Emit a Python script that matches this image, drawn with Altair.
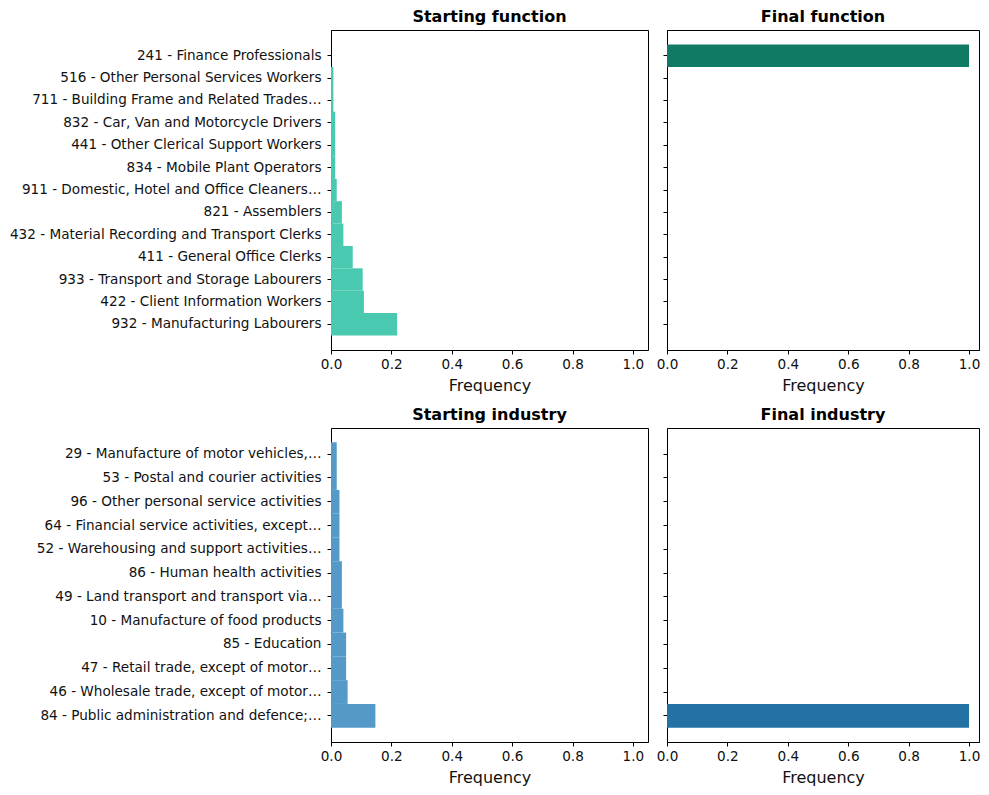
import altair as alt
import pandas as pd

func_cats = [
    "241 - Finance Professionals",
    "516 - Other Personal Services Workers",
    "711 - Building Frame and Related Trades…",
    "832 - Car, Van and Motorcycle Drivers",
    "441 - Other Clerical Support Workers",
    "834 - Mobile Plant Operators",
    "911 - Domestic, Hotel and Office Cleaners…",
    "821 - Assemblers",
    "432 - Material Recording and Transport Clerks",
    "411 - General Office Clerks",
    "933 - Transport and Storage Labourers",
    "422 - Client Information Workers",
    "932 - Manufacturing Labourers",
]
start_func = [0.0, 0.008, 0.008, 0.014, 0.014, 0.014, 0.019, 0.036, 0.041, 0.072, 0.105, 0.109, 0.219]
final_func = [1.0, 0.0, 0.0, 0.0, 0.0, 0.0, 0.0, 0.0, 0.0, 0.0, 0.0, 0.0, 0.0]

ind_cats = [
    "29 - Manufacture of motor vehicles,…",
    "53 - Postal and courier activities",
    "96 - Other personal service activities",
    "64 - Financial service activities, except…",
    "52 - Warehousing and support activities…",
    "86 - Human health activities",
    "49 - Land transport and transport via…",
    "10 - Manufacture of food products",
    "85 - Education",
    "47 - Retail trade, except of motor…",
    "46 - Wholesale trade, except of motor…",
    "84 - Public administration and defence;…",
]
start_ind = [0.019, 0.019, 0.028, 0.028, 0.028, 0.036, 0.036, 0.041, 0.050, 0.050, 0.055, 0.147]
final_ind = [0.0, 0.0, 0.0, 0.0, 0.0, 0.0, 0.0, 0.0, 0.0, 0.0, 0.0, 1.0]

x_ticks = [0.0, 0.2, 0.4, 0.6, 0.8, 1.0]
FONT = "DejaVu Sans"


def panel(cats, vals, color, title, show_labels, pad_outer, width, height, xmax):
    df = pd.DataFrame({"cat": cats, "freq": vals})
    return (
        alt.Chart(
            df,
            title=alt.TitleParams(
                title, font=FONT, fontSize=16, fontWeight="bold", color="#000",
                anchor="middle", frame="group", offset=5,
            ),
        )
        .mark_bar(color=color)
        .encode(
            y=alt.Y(
                "cat:N",
                sort=cats,
                scale=alt.Scale(domain=cats, paddingInner=0, paddingOuter=pad_outer),
                axis=alt.Axis(
                    title=None, labels=show_labels, labelLimit=0, labelFontSize=13.6,
                    labelFont=FONT, labelColor="#111", tickSize=4, labelPadding=6,
                    domainColor="#000", tickColor="#000", grid=False,
                ),
            ),
            x=alt.X(
                "freq:Q",
                scale=alt.Scale(domain=[0, xmax], nice=False, zero=True),
                axis=alt.Axis(
                    values=x_ticks, format=".1f", title="Frequency", grid=False,
                    labelFontSize=13.6, labelFont=FONT, labelColor="#111",
                    titleFont=FONT, titleFontSize=16, titleFontWeight="normal",
                    titleColor="#111", tickSize=4, labelPadding=3, titlePadding=7,
                    domainColor="#000", tickColor="#000", labelFlush=False,
                ),
            ),
            tooltip=["cat:N", "freq:Q"],
        )
        .properties(width=width, height=height)
    )


chart = (
    alt.concat(
        panel(func_cats, start_func, "#48C9B0", "Starting function", True, 0.65, 317, 320, 1.05),
        panel(func_cats, final_func, "#117A65", "Final function", False, 0.65, 312, 320, 1.033),
        panel(ind_cats, start_ind, "#5499C7", "Starting industry", True, 0.6, 317, 314, 1.05),
        panel(ind_cats, final_ind, "#2471A3", "Final industry", False, 0.6, 312, 314, 1.033),
        columns=2,
        spacing={"row": 11, "column": 6},
    )
    .configure(padding=0)
    .configure_view(stroke="#000", strokeWidth=1, strokeOpacity=1)
)

chart.save("out.html", embed_options={"renderer": "svg", "actions": False})
